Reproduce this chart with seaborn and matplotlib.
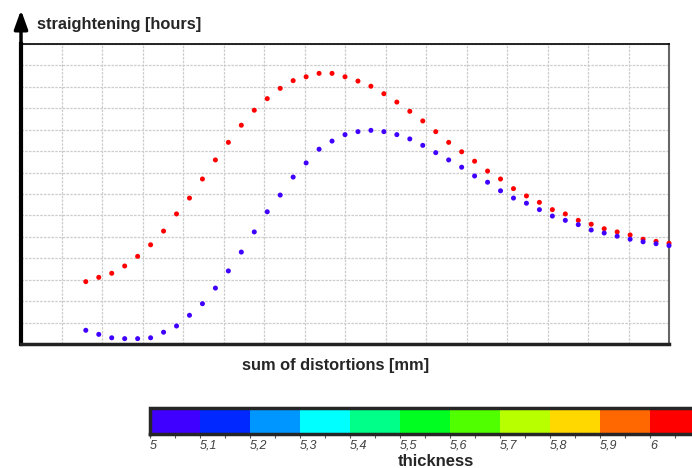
import numpy as np
import pandas as pd
import matplotlib
matplotlib.use('Agg')
import matplotlib as mpl
import matplotlib.pyplot as plt
import seaborn as sns
from matplotlib.colors import ListedColormap, BoundaryNorm

# ---- data ----
distortion = [1.60, 1.92, 2.24, 2.56, 2.88, 3.20, 3.52, 3.84, 4.16, 4.48, 4.80, 5.12,
              5.44, 5.76, 6.08, 6.40, 6.72, 7.04, 7.36, 7.68, 8.00, 8.32, 8.64, 8.96,
              9.28, 9.60, 9.92, 10.24, 10.56, 10.88, 11.20, 11.52, 11.84, 12.16, 12.48,
              12.80, 13.12, 13.44, 13.76, 14.08, 14.40, 14.72, 15.04, 15.36, 15.68, 16.00]
hours_t5 = [0.64, 0.45, 0.29, 0.25, 0.25, 0.29, 0.55, 0.84, 1.34, 1.88, 2.61, 3.41,
            4.29, 5.23, 6.17, 6.95, 7.79, 8.45, 9.09, 9.47, 9.77, 9.91, 9.97, 9.91,
            9.77, 9.57, 9.27, 8.93, 8.59, 8.25, 7.84, 7.55, 7.15, 6.81, 6.57, 6.27,
            5.97, 5.77, 5.57, 5.32, 5.18, 5.03, 4.89, 4.77, 4.68, 4.59]
hours_t6 = [2.91, 3.11, 3.30, 3.64, 4.09, 4.63, 5.27, 6.07, 6.81, 7.70, 8.59, 9.41,
            10.21, 10.91, 11.45, 11.93, 12.29, 12.47, 12.63, 12.63, 12.47, 12.27, 12.03,
            11.68, 11.29, 10.86, 10.41, 9.91, 9.41, 8.97, 8.53, 8.07, 7.70, 7.25, 6.91,
            6.61, 6.27, 6.07, 5.77, 5.59, 5.38, 5.23, 5.09, 4.89, 4.79, 4.70]
thickness_levels = [5.0, 5.1, 5.2, 5.3, 5.4, 5.5, 5.6, 5.7, 5.8, 5.9, 6.0]
thickness_labels = ['5', '5,1', '5,2', '5,3', '5,4', '5,5', '5,6', '5,7', '5,8', '5,9', '6']
thickness_colors = ['#4000ff', '#0028ff', '#0096ff', '#00ffff', '#00ff88', '#00ff20',
                    '#50ff00', '#b8ff00', '#ffd800', '#ff6800', '#ff0000']

sns.set_style('white')
plt.rcParams['font.family'] = ['Liberation Sans', 'DejaVu Sans']

W, H = 692, 468
fig = plt.figure(figsize=(W / 100, H / 100), dpi=100)
ax = fig.add_axes([21 / W, 124 / H, 648 / W, 300 / H])

df = pd.DataFrame({
    'distortion': distortion * 2,
    'hours': hours_t6 + hours_t5,
    'thickness': ['6'] * len(hours_t6) + ['5'] * len(hours_t5),
})
sns.scatterplot(data=df, x='distortion', y='hours', hue='thickness',
                hue_order=['6', '5'], palette={'5': '#4000ff', '6': '#ff0000'},
                s=13, linewidth=0, legend=False, ax=ax, clip_on=False, zorder=3)

ax.set_xlim(0, 16)
ax.set_ylim(0, 14)
ax.set_xticks(np.arange(0, 17, 2))
ax.set_xticks(np.arange(0, 17, 1), minor=True)
ax.set_yticks(np.arange(0, 15, 2))
ax.set_yticks(np.arange(0, 15, 1), minor=True)
ax.set_xticklabels([])
ax.set_yticklabels([])
ax.set_xlabel('')
ax.set_ylabel('')
ax.grid(True, which='both', color='#cccccc', linestyle=(0, (2, 1)), linewidth=0.9)
ax.tick_params(which='major', direction='inout', length=5, width=1.2, color='black')
ax.tick_params(which='minor', length=0)
ax.spines['left'].set_linewidth(3)
ax.spines['left'].set_color('black')
ax.spines['bottom'].set_linewidth(2.5)
ax.spines['bottom'].set_color('#222222')
ax.spines['top'].set_linewidth(1.2)
ax.spines['top'].set_color('black')
ax.spines['right'].set_linewidth(1.5)
ax.spines['right'].set_color('#666666')
for sp in ax.spines.values():
    sp.set_visible(True)

ax.annotate('', xy=(0, 1 + 34 / 300), xytext=(0, 1.0), xycoords='axes fraction',
            arrowprops=dict(arrowstyle='-|>,head_length=0.75,head_width=0.27', lw=2.5,
                            color='black', mutation_scale=15, shrinkA=0, shrinkB=0),
            annotation_clip=False)

fig.text(37 / W, 1 - 28.5 / H, 'straightening [hours]', fontweight='bold', fontsize=11.8,
         va='baseline', ha='left')
fig.text(336 / W, 1 - 370 / H, 'sum of distortions [mm]', fontweight='bold', fontsize=11.8,
         va='baseline', ha='center')

# colorbar
cax = fig.add_axes([150 / W, 34 / H, 550 / W, 26 / H])
cmap = ListedColormap(thickness_colors)
bounds = thickness_levels + [6.1]
norm = BoundaryNorm(bounds, cmap.N)
cb = mpl.colorbar.ColorbarBase(cax, cmap=cmap, norm=norm, orientation='horizontal',
                               ticks=thickness_levels, spacing='proportional')
cb.outline.set_linewidth(2.5)
cax.set_xticks(thickness_levels)
cax.set_xticklabels(thickness_labels, style='italic', fontsize=9, color='#404040', ha='left')
cax.set_xticks([l + 0.05 for l in thickness_levels], minor=True)
cax.tick_params(which='both', direction='out', length=3, width=0.8, color='#555555', pad=1)
fig.text(436 / W, 1 - 462 / H, 'thickness', fontweight='bold', fontsize=12,
         va='center', ha='center')

fig.savefig('out.png', dpi=100, facecolor='white')
